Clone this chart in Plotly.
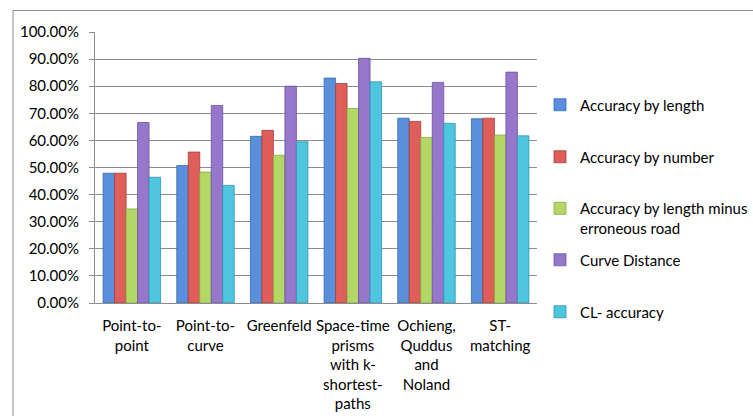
import plotly.graph_objects as go

categories = [
    "Point-to-<br>point",
    "Point-to-<br>curve",
    "Greenfeld",
    "Space-time<br>prisms<br>with k-<br>shortest-<br>paths",
    "Ochieng,<br>Quddus<br>and<br>Noland",
    "ST-<br>matching",
]

series_names = [
    "Accuracy by length",
    "Accuracy by number",
    "Accuracy by length minus<br>erroneous road",
    "Curve Distance",
    "CL- accuracy",
]

acc_by_length = [0.479, 0.507, 0.615, 0.830, 0.682, 0.680]
acc_by_number = [0.479, 0.557, 0.637, 0.810, 0.670, 0.682]
acc_minus_err = [0.347, 0.483, 0.545, 0.718, 0.611, 0.620]
curve_distance = [0.666, 0.729, 0.800, 0.903, 0.814, 0.852]
cl_accuracy = [0.464, 0.434, 0.595, 0.816, 0.663, 0.617]

series_values = [acc_by_length, acc_by_number, acc_minus_err, curve_distance, cl_accuracy]

colors = ["#5A8FDB", "#DF5E5A", "#B4D865", "#9677CB", "#4FC6E0"]
edge_colors = ["#3A68AE", "#A83E3B", "#87A845", "#6B519A", "#3193AB"]

FONT = "Lato"

fig = go.Figure()
legend_names = ["legend", "legend2", "legend3", "legend4", "legend5"]
for name, vals, c, ec, lg in zip(series_names, series_values, colors, edge_colors, legend_names):
    fig.add_trace(go.Bar(
        x=categories, y=vals, name=name,
        marker=dict(color=c, line=dict(color=ec, width=0.8)),
        legend=lg,
    ))

W, H = 753, 416
L, T, R, B = 95, 32, 216, 113
PH = H - T - B
PW = W - L - R


def py(p):
    return (H - B - p) / PH


def px(p):
    return (p - L) / PW


legend_centers = [105, 157, 218, 260, 312]
lx = px(540)
leg_common = dict(
    x=lx, xanchor="left", yanchor="middle",
    font=dict(family=FONT, size=15, color="#000000"),
    bgcolor="rgba(0,0,0,0)", borderwidth=0, itemwidth=30,
)
layout_legends = {}
for i, (lg, cy) in enumerate(zip(legend_names, legend_centers)):
    d = dict(leg_common, y=py(cy))
    if i == 2:
        d["valign"] = "top"
    layout_legends[lg] = d

fig.update_layout(
    width=W, height=H,
    margin=dict(l=L, r=R, t=T, b=B, autoexpand=False),
    paper_bgcolor="white", plot_bgcolor="white",
    barmode="group", bargap=0.22, bargroupgap=0.0,
    font=dict(family=FONT, size=15, color="#000000"),
    showlegend=True,
    **layout_legends,
)

fig.update_yaxes(
    range=[0, 1], dtick=0.1, tickformat=".2%",
    showgrid=True, gridcolor="#8C8C8C", gridwidth=1,
    showline=True, linecolor="#8C8C8C", linewidth=1,
    ticks="outside", ticklen=5, tickcolor="#8C8C8C",
    ticklabelstandoff=7, automargin=False,
    zeroline=False,
    tickfont=dict(family=FONT, size=15, color="#000000"),
)
fig.update_xaxes(
    showline=True, linecolor="#8C8C8C", linewidth=1,
    showgrid=False, tickangle=0,
    ticklabelstandoff=9, automargin=False,
    tickfont=dict(family=FONT, size=15, color="#000000"),
)

# outer chart frame
fig.add_shape(
    type="rect", xref="paper", yref="paper",
    x0=px(13), x1=px(770), y0=py(440), y1=py(10.5),
    line=dict(color="#8E8E8E", width=1), fillcolor="rgba(0,0,0,0)", layer="below",
)

fig.write_html(
    "out.html",
    config={"displayModeBar": False},
    post_script=(
        "document.body.style.margin='0px';"
        "document.body.style.overflow='hidden';"
        "document.documentElement.style.overflow='hidden';"
    ),
)
